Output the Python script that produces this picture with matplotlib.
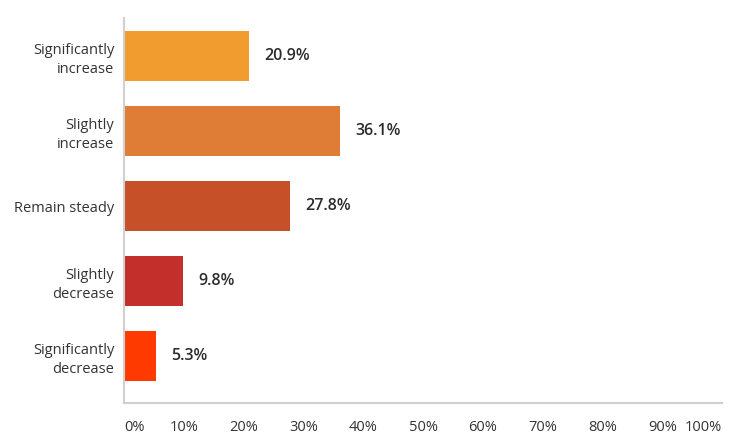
import matplotlib
matplotlib.use("Agg")
import matplotlib.pyplot as plt

categories = ["Significantly\nincrease", "Slightly\nincrease", "Remain steady",
              "Slightly\ndecrease", "Significantly\ndecrease"]
values = [20.9, 36.1, 27.8, 9.8, 5.3]
colors = ["#F09C2E", "#DF7C35", "#C65128", "#C3302C", "#FF3A00"]
xticks = [0, 10, 20, 30, 40, 50, 60, 70, 80, 90, 100]
xticklabels = [f"{t}%" for t in xticks]

plt.rcParams['font.family'] = ['Open Sans', 'DejaVu Sans']

fig = plt.figure(figsize=(7.5, 4.48), dpi=100)
ax = fig.add_axes([124/750, 45/448, 598/750, 385/448])

y = list(range(len(categories)))
ax.barh(y, values, height=0.667, color=colors)
for yi, v in zip(y, values):
    ax.annotate(f"{v}%", (v, yi), xytext=(11, 0), textcoords="offset points",
                va="center", ha="left", fontsize=11.5, fontweight="semibold",
                color="#2b2b2b")

ax.set_xlim(0, 100)
ax.set_ylim(4.627, -0.507)
ax.set_yticks(y)
ax.set_yticklabels(categories, fontsize=10.5, color="#333333", ha="right",
                   linespacing=1.35)
ax.set_xticks(xticks)
ax.set_xticklabels(xticklabels, fontsize=10.5, color="#333333")
labels = ax.get_xticklabels()
labels[0].set_ha("left")
labels[-1].set_ha("right")
ax.tick_params(axis="both", length=0)
ax.tick_params(axis="x", pad=12)
ax.tick_params(axis="y", pad=7)
for s in ["top", "right"]:
    ax.spines[s].set_visible(False)
for s in ["left", "bottom"]:
    ax.spines[s].set_color("#d0d0d0")
    ax.spines[s].set_linewidth(1.5)

fig.savefig("out.png", dpi=100)
